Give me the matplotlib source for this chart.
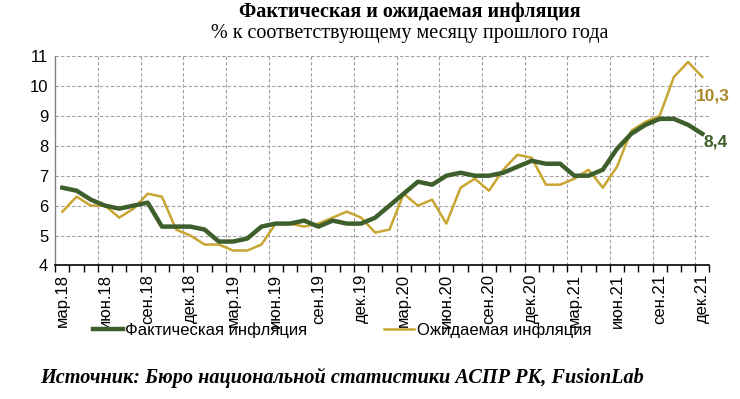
import matplotlib
matplotlib.use("Agg")
import matplotlib.pyplot as plt
from matplotlib.lines import Line2D
import numpy as np

# ---- data ----
months = ["мар.18", "апр.18", "май.18", "июн.18", "июл.18", "авг.18", "сен.18", "окт.18", "ноя.18", "дек.18",
          "янв.19", "фев.19", "мар.19", "апр.19", "май.19", "июн.19", "июл.19", "авг.19", "сен.19", "окт.19", "ноя.19", "дек.19",
          "янв.20", "фев.20", "мар.20", "апр.20", "май.20", "июн.20", "июл.20", "авг.20", "сен.20", "окт.20", "ноя.20", "дек.20",
          "янв.21", "фев.21", "мар.21", "апр.21", "май.21", "июн.21", "июл.21", "авг.21", "сен.21", "окт.21", "ноя.21", "дек.21"]
actual = [6.6, 6.5, 6.2, 6.0, 5.9, 6.0, 6.1, 5.3, 5.3, 5.3,
          5.2, 4.8, 4.8, 4.9, 5.3, 5.4, 5.4, 5.5, 5.3, 5.5, 5.4, 5.4,
          5.6, 6.0, 6.4, 6.8, 6.7, 7.0, 7.1, 7.0, 7.0, 7.1, 7.3, 7.5,
          7.4, 7.4, 7.0, 7.0, 7.2, 7.9, 8.4, 8.7, 8.9, 8.9, 8.7, 8.4]
expected = [5.8, 6.3, 6.0, 6.0, 5.6, 5.9, 6.4, 6.3, 5.2, 5.0,
            4.7, 4.7, 4.5, 4.5, 4.7, 5.4, 5.4, 5.3, 5.4, 5.6, 5.8, 5.6,
            5.1, 5.2, 6.4, 6.0, 6.2, 5.4, 6.6, 6.9, 6.5, 7.2, 7.7, 7.6,
            6.7, 6.7, 6.9, 7.2, 6.6, 7.3, 8.5, 8.8, 9.0, 10.3, 10.8, 10.3]
yticks = [4, 5, 6, 7, 8, 9, 10, 11]
label_step = 3

title = "Фактическая и ожидаемая инфляция"
subtitle = "% к соответствующему месяцу прошлого года"
source = "Источник: Бюро национальной статистики АСПР РК, FusionLab"
name_actual = "Фактическая инфляция"
name_expected = "Ожидаемая инфляция"

GREEN = "#3e5f2b"
GOLD = "#c9a532"
GOLD_TXT = "#a9882a"

plt.rcParams['font.family'] = ['Liberation Sans', 'DejaVu Sans']

fig = plt.figure(figsize=(7.4, 3.99), dpi=100)
ax = fig.add_axes([0.0747, 0.3346, 0.884, 0.525])

n = len(months)
x = np.arange(n) + 0.5

# gridlines
for b in range(label_step, n, label_step):
    ax.axvline(b, color="#a0a0a0", lw=0.8, ls=(0, (3, 2)), zorder=0)
for v in yticks[1:]:
    ax.axhline(v, color="#a0a0a0", lw=0.8, ls=(0, (3, 2)), zorder=0)

ax.plot(x, expected, color=GOLD, lw=1.8, zorder=3, solid_joinstyle='round')
ax.plot(x, actual, color=GREEN, lw=3.2, zorder=4, solid_joinstyle='round')

ax.set_xlim(0, n)
ax.set_ylim(yticks[0], yticks[-1])
ax.set_yticks(yticks)
ax.set_yticklabels([str(v) for v in yticks], fontsize=12)
ax.tick_params(axis='y', length=0, pad=5)

ax.set_xticks(x[::label_step])
ax.set_xticklabels(months[::label_step], rotation=90, fontsize=12)
ax.set_xticks(np.arange(0, n + 1), minor=True)
ax.tick_params(axis='x', which='major', length=0, pad=6)
ax.tick_params(axis='x', which='minor', length=5, width=1, color="black", direction='out')

for s in ["top", "right"]:
    ax.spines[s].set_visible(False)
ax.spines["left"].set_color("#808080")
ax.spines["left"].set_linewidth(1.0)
ax.spines["bottom"].set_color("black")
ax.spines["bottom"].set_linewidth(1.2)

# end labels
ax.annotate(f"{expected[-1]:.1f}".replace(".", ","), xy=(x[-1], expected[-1]), xytext=(-5, -14),
            textcoords="offset points", fontsize=12.5, fontweight="bold", color=GOLD_TXT, ha="left", va="center")
ax.annotate(f"{actual[-1]:.1f}".replace(".", ","), xy=(x[-1], actual[-1]), xytext=(1, -6),
            textcoords="offset points", fontsize=12.5, fontweight="bold", color=GREEN, ha="left", va="center")

fig.text(0.554, 0.969, title, ha="center", va="center", fontsize=14.5, fontweight="bold",
         family=["Liberation Serif", "DejaVu Serif"])
fig.text(0.553, 0.915, subtitle, ha="center", va="center", fontsize=14.5,
         family=["Liberation Serif", "DejaVu Serif"])

handles = [Line2D([], [], color=GREEN, lw=3.2), Line2D([], [], color=GOLD, lw=1.8)]
fig.legend(handles, [name_actual, name_expected], loc="center", bbox_to_anchor=(0.462, 0.173), ncol=2,
           frameon=False, fontsize=12, handlelength=1.8, handletextpad=0.15, columnspacing=4.6)

fig.text(0.054, 0.052, source, ha="left", va="center", fontsize=14.6, fontweight="bold", style="italic",
         family=["Liberation Serif", "DejaVu Serif"])

fig.savefig("out.png", dpi=100)
